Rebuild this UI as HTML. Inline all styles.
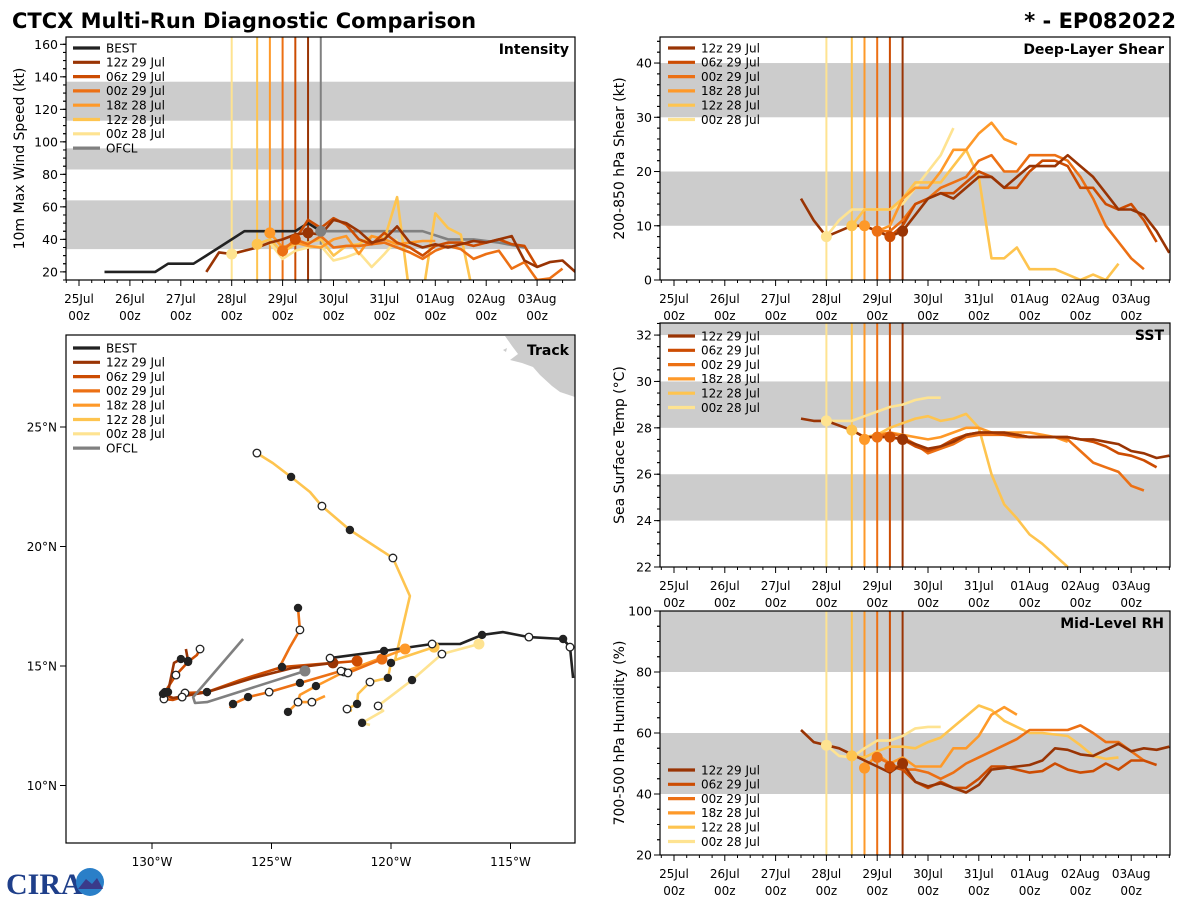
<!DOCTYPE html>
<html><head><meta charset="utf-8"><style>
html,body{margin:0;padding:0;background:#fff;}
svg{display:block;font-family:"DejaVu Sans","Liberation Sans",sans-serif;}
</style></head><body>
<svg id="root" width="1200" height="900" viewBox="0 0 1200 900" xmlns="http://www.w3.org/2000/svg">
<defs>
<clipPath id="cInt"><rect x="66" y="37" width="509" height="243"/></clipPath>
<clipPath id="cShr"><rect x="660" y="37" width="510" height="243"/></clipPath>
<clipPath id="cSst"><rect x="660" y="323" width="510" height="244"/></clipPath>
<clipPath id="cRh"><rect x="660" y="611" width="510" height="244"/></clipPath>
<clipPath id="cTrk"><rect x="66" y="335" width="509" height="508"/></clipPath>
</defs>
<text x="12" y="28" font-size="21" font-weight="bold" fill="#000">CTCX Multi-Run Diagnostic Comparison</text>
<text x="1176" y="28" font-size="21" font-weight="bold" fill="#000" text-anchor="end">* - EP082022</text>
<g>
<text x="6" y="894" font-size="30" font-weight="bold" fill="#1f3f8a" font-family="Liberation Serif, serif">CIRA</text>
<circle cx="90" cy="882" r="14" fill="#2a7fc8"/>
<path d="M78 889 L86 879 L92 884 L97 878 L103 889 Z" fill="#3a3a8a"/>
</g>
</svg>
<script>
// ===== DATA =====
const modelNames = ["12z 29 Jul","06z 29 Jul","00z 29 Jul","18z 28 Jul","12z 28 Jul","00z 28 Jul"];
const modelColors = ["#993404","#cc4c02","#ec7014","#fe9929","#fec44f","#fee391"];
const modelInitHours = [108,102,96,90,84,72];
const dayLabels = ["25Jul","26Jul","27Jul","28Jul","29Jul","30Jul","31Jul","01Aug","02Aug","03Aug"];

// Intensity (kt), 6-hourly from start hour
const bestIntStart = 12;
const bestIntVals = [20,20,20,20,20,25,25,25,30,35,40,45,45,45,45,45,50,45];
const ofclIntHours = [114,126,138,150,162,174,186,198,210];
const ofclIntVals = [45,45,45,45,45,40,40,38,35];
const intStarts = [60,102,96,90,84,72];
const int12z29 = [20,32,31,33,35,38,40,43,44,43,52,50,45,38,40,48,38,35,37,35,37,39,38,40,42,27,23,26,27,20];
const int06z29 = [40,52,47,53,49,40,37,44,38,35,30,36,38,38,36,38,40,37,36,23];
const int00z29 = [33,40,37,42,35,36,36,37,38,35,32,28,33,36,34,28,31,33,22,26,15,16,22];
const int18z28 = [44,35,38,36,35,40,42,31,42,40,37,38,39,39];
const int12z28 = [37,40,32,37,38,40,30,36,37,42,40,66,5,5,56,47,43,5];
const int00z28 = [31,33,35,38,28,33,35,36,27,29,32,23,31,40];
const intTicks = [20,40,60,80,100,120,140,160];

// Shear (kt)
const shrStarts = [60,102,96,90,84,72];
const shr12z29 = [15,11,8,9,10,10,9,8,9,12,15,16,15,17,19,19,17,19,21,21,21,23,21,19,16,13,13,12,9,5];
const shr06z29 = [8,10,14,15,16,16,18,20,19,17,17,20,22,22,21,17,17,14,13,14,11,7];
const shr00z29 = [9,9,11,14,15,17,18,19,22,23,20,20,23,23,23,22,19,15,10,7,4,2];
const shr18z28 = [10,9,10,15,17,17,20,24,24,27,29,26,25];
const shr12z28 = [10,13,13,13,15,18,18,18,21,24,19,4,4,6,2,2,2,1,0,1,0,3];
const shr00z28 = [8,11,13,13,13,13,14,17,20,23,28];
const shrTicks = [0,10,20,30,40];

// SST (C)
const sstStarts = [60,102,96,90,84,72];
const sst12z29 = [28.4,28.3,28.3,28.1,27.9,27.6,27.6,27.6,27.5,27.3,27.1,27.2,27.4,27.7,27.8,27.8,27.8,27.7,27.6,27.6,27.6,27.6,27.5,27.5,27.4,27.3,27.0,26.9,26.7,26.8];
const sst06z29 = [27.6,27.5,27.2,27.0,27.2,27.5,27.7,27.8,27.8,27.7,27.7,27.6,27.6,27.6,27.6,27.5,27.4,27.2,26.9,26.8,26.6,26.3];
const sst00z29 = [27.6,27.8,27.6,27.3,26.9,27.1,27.3,27.6,27.7,27.7,27.7,27.6,27.6,27.6,27.6,27.5,27.0,26.5,26.3,26.1,25.5,25.3];
const sst18z28 = [27.5,27.7,27.8,27.7,27.6,27.5,27.6,27.8,28.0,28.0,27.8,27.8,27.8,27.8,27.7,27.6,27.4];
const sst12z28 = [27.9,27.6,27.7,28.0,28.2,28.4,28.5,28.3,28.4,28.6,28.0,26.0,24.7,24.1,23.4,23.0,22.5,22.0];
const sst00z28 = [28.3,28.3,28.3,28.5,28.7,28.9,29.0,29.2,29.3,29.3];
const sstTicks = [22,24,26,28,30,32];

// Mid-level RH (%)
const rhStarts = [60,102,96,90,84,72];
const rh12z29 = [61,57,56,55,53,51,49,47,50,44,42.5,43.5,42,40.5,43,48,48.5,49,49.5,51,55,54.5,53,52.5,54.5,56.5,54,55,54.5,55.5];
const rh06z29 = [49,48,44,42,44,42,42,45,49,49,48,47,47.5,50,48,47,47.5,50,48,51,51,49.5];
const rh00z29 = [52,50,48,48,47,45,47,50,52,54,56,58,61,61,61,61,62.5,60,57,57,54,51];
const rh18z28 = [48.5,53,50,52,49,49,49,55,55,59,66,68.5,66];
const rh12z28 = [52.5,52,54,55.5,55.5,55,57,58.5,62,65.5,69,67.5,64,62,60,60,59.5,59,56,52.5,51.5,52];
const rh00z28 = [56,52.5,52,55,57.5,57.5,59,61.5,62,62];
const rhTicks = [20,40,60,80,100];

// Tracks (lon, lat, marker: 0 none, 1 filled, 2 open, 3 init)
const bestLon = [-112.38,-112.51,-112.80,-114.23,-115.31,-116.19,-117.11,-118.28,-120.29,-122.55];
const bestLat = [14.50,15.79,16.13,16.21,16.42,16.30,15.92,15.92,15.63,15.33];
const bestMk  = [0,2,1,2,0,1,0,2,1,2];
const ofclLon = [-123.60,-127.70,-128.20,-128.28,-126.19];
const ofclLat = [14.79,13.49,13.45,13.70,16.13];
const trk12z29Lon = [-122.43,-124.10,-125.77,-127.70,-129.12,-129.54,-129.33,-129.08,-128.79,-128.49,-128.58];
const trk12z29Lat = [15.13,14.92,14.50,13.91,13.66,13.83,13.91,15.13,15.29,15.21,15.71];
const trk12z29Mk  = [3,0,0,1,0,1,1,0,1,1,0];
const trk06z29Lon = [-121.42,-122.43,-124.56,-126.32,-127.70,-128.62,-128.74,-129.12,-129.50,-129.46,-129.0,-128.49,-128.12,-127.99];
const trk06z29Lat = [15.21,15.13,14.96,14.41,13.91,13.87,13.70,13.58,13.62,13.91,14.62,15.17,15.46,15.71];
const trk06z29Mk  = [3,0,1,0,1,2,2,0,2,1,2,1,0,2];
const trk00z29Lon = [-120.38,-121.80,-122.09,-123.81,-125.10,-125.98,-126.61,-126.74];
const trk00z29Lat = [15.29,14.71,14.79,14.29,13.91,13.70,13.41,13.24];
const trk00z29Mk  = [3,2,2,1,2,1,1,0];
const trk00z29bLon = [-124.73,-124.23,-123.81,-123.89];
const trk00z29bLat = [14.83,15.79,16.51,17.43];
const trk00z29bMk  = [0,0,2,1];
const trk18z28Lon = [-119.41,-120.63,-121.97,-123.14,-123.81,-123.89,-124.31];
const trk18z28Lat = [15.71,15.25,14.75,14.16,13.79,13.49,13.08];
const trk18z28Mk  = [3,0,2,1,0,0,1];
const trk18z28bLon = [-123.89,-123.31,-122.76];
const trk18z28bLat = [13.49,13.49,13.74];
const trk18z28bMk  = [2,2,0];
const trk12z28Lon = [-118.20,-119.83,-119.21,-119.92,-121.72,-122.89,-123.39,-124.18,-124.94,-125.61];
const trk12z28Lat = [15.79,15.25,17.93,19.52,20.69,21.69,22.28,22.91,23.49,23.91];
const trk12z28Mk  = [3,0,0,2,1,2,0,1,0,2];
const trk12z28bLon = [-119.83,-120.0,-120.13,-120.88,-121.38,-121.42,-121.84,-121.63];
const trk12z28bLat = [15.25,15.13,14.50,14.33,13.83,13.41,13.20,13.12];
const trk12z28bMk  = [0,1,1,2,0,1,2,0];
const trk00z28Lon = [-116.32,-117.87,-119.12,-120.54,-120.33,-121.21,-120.88];
const trk00z28Lat = [15.92,15.50,14.41,13.33,13.12,12.62,12.53];
const trk00z28Mk  = [3,2,1,2,0,1,0];
const lonTicks = [-130,-125,-120,-115];
const latTicks = [10,15,20,25];

// ===== DRAWING =====
const NS = "http://www.w3.org/2000/svg";
const root = document.getElementById('root');
function mk(tag, attrs, parent){
  const e = document.createElementNS(NS, tag);
  for (const k in attrs) e.setAttribute(k, attrs[k]);
  (parent||root).appendChild(e);
  return e;
}
function txt(str, attrs, parent){ const t = mk('text', attrs, parent); t.textContent = str; return t; }

function makePanel(p){
  const g = mk('g', {});
  
  
  const yS = v => p.y1 - (v - p.ymin) / (p.ymax - p.ymin) * (p.y1 - p.y0);
  const xS = h => p.xday0 + h * p.pxDay / 24;
  // bands
  p.bands.forEach(b => {
    const r = mk('rect', {x:p.x0, y:yS(Math.min(b[1],p.ymax)), width:p.x1-p.x0, height:yS(b[0])-yS(Math.min(b[1],p.ymax)), fill:'#cccccc'}, g);
    
    
  });
  // y ticks
  for (let v = p.ymin; v <= p.ymax + 1e-6; v += p.yminor) {
    const vv = Math.round(v*100)/100;
    if (Math.abs(vv - Math.round(vv/p.yminor)*p.yminor) > 1e-6) continue;
    mk('line', {x1:p.x0-3, x2:p.x0, y1:yS(vv), y2:yS(vv), stroke:'#000', 'stroke-width':1}, g);
  }
  const ys = Math.ceil(p.ymin / p.yminor) * p.yminor;
  for (let v = ys; v <= p.ymax; v += p.yminor) mk('line', {x1:p.x0-3, x2:p.x0, y1:yS(v), y2:yS(v), stroke:'#000', 'stroke-width':1}, g);
  p.yticks.forEach(v => {
    mk('line', {x1:p.x0-6, x2:p.x0, y1:yS(v), y2:yS(v), stroke:'#000', 'stroke-width':1}, g);
    const t = txt(String(v), {x:p.x0-8, y:yS(v)+4.5, 'font-size':12.5, 'text-anchor':'end', fill:'#000'}, g);
    
    
  });
  // x ticks
  for (let h = -6; h <= 240; h += 6) {
    const x = xS(h); if (x < p.x0 || x > p.x1) continue;
    const major = h % 24 === 0;
    mk('line', {x1:x, x2:x, y1:p.y1, y2:p.y1+(major?6:3), stroke:'#000', 'stroke-width':1}, g);
  }
  dayLabels.forEach((d, i) => {
    const x = xS(i*24);
    const t1 = txt(d, {x:x, y:p.y1+23, 'font-size':12, 'text-anchor':'middle', fill:'#000'}, g);
    
    
    const t2 = txt('00z', {x:x, y:p.y1+40, 'font-size':12, 'text-anchor':'middle', fill:'#000'}, g);
    
    
  });
  // y label
  const yl = txt(p.ylabel, {x:0, y:0, 'font-size':14, 'text-anchor':'middle', fill:'#000', transform:`translate(${p.ylx},${(p.y0+p.y1)/2}) rotate(-90)`}, g);
  
  
  // data group
  const dg = mk('g', {'clip-path':`url(#${p.clip})`}, g);
  // init lines
  modelInitHours.forEach((h, i) => {
    const l = mk('line', {x1:xS(h), x2:xS(h), y1:p.y0, y2:p.y1, stroke:modelColors[i], 'stroke-width':2}, dg);
    
    
  });
  if (p.ofclLine) {
    const l = mk('line', {x1:xS(p.ofclLine), x2:xS(p.ofclLine), y1:p.y0, y2:p.y1, stroke:'#808080', 'stroke-width':2}, dg);
    
    
  }
  // series (draw lightest first)
  const order = [5,4,3,2,1,0];
  const lineOf = (hours, vals, color, name) => {
    const pts = hours.map((h, k) => xS(h).toFixed(1) + ',' + yS(vals[k]).toFixed(1)).join(' ');
    const pl = mk('polyline', {points:pts, fill:'none', stroke:color, 'stroke-width':2.6, 'stroke-linejoin':'round'}, dg);
    
    
  };
  if (p.extra) p.extra.forEach(e => lineOf(e.hours, e.vals, e.color, e.name));
  order.forEach(i => {
    const vals = p.series[i];
    const hours = vals.map((_, k) => p.starts[i] + 6*k);
    lineOf(hours, vals, modelColors[i], 'series-' + modelNames[i].replace(/ /g,'-').toLowerCase());
  });
  order.forEach(i => {
    const vals = p.series[i];
    const k = (modelInitHours[i] - p.starts[i]) / 6;
    if (k < 0 || k >= vals.length) return;
    const c = mk('circle', {cx:xS(modelInitHours[i]), cy:yS(vals[k]), r:5.5, fill:modelColors[i]}, dg);
    
    
  });
  if (p.ofclDot) {
    const c = mk('circle', {cx:xS(p.ofclDot[0]), cy:yS(p.ofclDot[1]), r:5.5, fill:'#808080'}, dg);
    
    
  }
  // frame
  const fr = mk('rect', {x:p.x0, y:p.y0, width:p.x1-p.x0, height:p.y1-p.y0, fill:'none', stroke:'#000', 'stroke-width':1.2}, g);
  
  
  // title
  const tt = txt(p.title, {x:p.x1-6, y:p.y0+17, 'font-size':14, 'font-weight':'bold', 'text-anchor':'end', fill:'#000'}, g);
  
  
  legend(g, p.legX, p.legY, p.legendEntries);
}

function legend(g, x, y, entries){
  const lg = mk('g', {}, g);
  
  
  entries.forEach((e, i) => {
    const yy = y + i*14.3;
    const ent = mk('g', {}, lg);
    
    
    mk('line', {x1:x, x2:x+27, y1:yy, y2:yy, stroke:e[1], 'stroke-width':3.2}, ent);
    txt(e[0], {x:x+33, y:yy+4.3, 'font-size':12, fill:'#000'}, ent);
  });
}
const modelLegend = modelNames.map((n, i) => [n, modelColors[i]]);

// Intensity
makePanel({name:'intensity', x0:66, x1:575, y0:37, y1:280, ymin:15, ymax:164.5, yminor:5, yticks:intTicks,
  bands:[[34,64],[83,96],[113,137]], xday0:79, pxDay:50.9, ylabel:'10m Max Wind Speed (kt)', ylx:24, clip:'cInt',
  title:'Intensity', starts:intStarts, series:[int12z29,int06z29,int00z29,int18z28,int12z28,int00z28],
  extra:[{hours:bestIntVals.map((_,k)=>bestIntStart+6*k), vals:bestIntVals, color:'#222222', name:'series-best'},
         {hours:ofclIntHours, vals:ofclIntVals, color:'#808080', name:'series-ofcl'}],
  ofclLine:114, ofclDot:[ofclIntHours[0], ofclIntVals[0]],
  legX:73, legY:48, legendEntries:[['BEST','#222222']].concat(modelLegend).concat([['OFCL','#808080']])});
// Shear
makePanel({name:'shear', x0:660, x1:1170, y0:37, y1:280, ymin:0, ymax:44.8, yminor:2, yticks:shrTicks,
  bands:[[10,20],[30,40]], xday0:674, pxDay:50.8, ylabel:'200-850 hPa Shear (kt)', ylx:624, clip:'cShr',
  title:'Deep-Layer Shear', starts:shrStarts, series:[shr12z29,shr06z29,shr00z29,shr18z28,shr12z28,shr00z28],
  legX:668, legY:48, legendEntries:modelLegend});
// SST
makePanel({name:'sst', x0:660, x1:1170, y0:323, y1:567, ymin:22, ymax:32.52, yminor:0.5, yticks:sstTicks,
  bands:[[24,26],[28,30],[32,34]], xday0:674, pxDay:50.8, ylabel:'Sea Surface Temp (°C)', ylx:624, clip:'cSst',
  title:'SST', starts:sstStarts, series:[sst12z29,sst06z29,sst00z29,sst18z28,sst12z28,sst00z28],
  legX:668, legY:336, legendEntries:modelLegend});
// RH
makePanel({name:'rh', x0:660, x1:1170, y0:611, y1:855, ymin:20, ymax:100, yminor:5, yticks:rhTicks,
  bands:[[40,60],[80,100]], xday0:674, pxDay:50.8, ylabel:'700-500 hPa Humidity (%)', ylx:624, clip:'cRh',
  title:'Mid-Level RH', starts:rhStarts, series:[rh12z29,rh06z29,rh00z29,rh18z28,rh12z28,rh00z28],
  legX:668, legY:770, legendEntries:modelLegend});

// Track panel
(function(){
  const g = mk('g', {});
  
  
  const lx = lon => 152 + (lon + 130) * 23.9;
  const ly = lat => 666 - (lat - 15) * 23.9;
  const dg = mk('g', {'clip-path':'url(#cTrk)'}, g);
  const land = mk('path', {d:'M505 336 L575 336 L575 397 L560 392 L552 386 L540 375 L533 367 L522 363 L510 360 L518 354 L512 346 Z M503 350 L507 348 L506 352 Z', fill:'#cccccc'}, dg);
  
  
  const tracks = [
    {lon:trk00z28Lon, lat:trk00z28Lat, mk:trk00z28Mk, c:modelColors[5], n:'track-00z-28-jul'},
    {lon:trk12z28Lon, lat:trk12z28Lat, mk:trk12z28Mk, c:modelColors[4], n:'track-12z-28-jul'},
    {lon:trk12z28bLon, lat:trk12z28bLat, mk:trk12z28bMk, c:modelColors[4], n:'track-12z-28-jul-branch'},
    {lon:trk18z28Lon, lat:trk18z28Lat, mk:trk18z28Mk, c:modelColors[3], n:'track-18z-28-jul'},
    {lon:trk18z28bLon, lat:trk18z28bLat, mk:trk18z28bMk, c:modelColors[3], n:'track-18z-28-jul-branch'},
    {lon:trk00z29Lon, lat:trk00z29Lat, mk:trk00z29Mk, c:modelColors[2], n:'track-00z-29-jul'},
    {lon:trk00z29bLon, lat:trk00z29bLat, mk:trk00z29bMk, c:modelColors[2], n:'track-00z-29-jul-branch'},
    {lon:trk06z29Lon, lat:trk06z29Lat, mk:trk06z29Mk, c:modelColors[1], n:'track-06z-29-jul'},
    {lon:trk12z29Lon, lat:trk12z29Lat, mk:trk12z29Mk, c:modelColors[0], n:'track-12z-29-jul'},
    {lon:ofclLon, lat:ofclLat, mk:[3,0,0,0,0], c:'#808080', n:'track-ofcl'},
    {lon:bestLon, lat:bestLat, mk:bestMk, c:'#222222', n:'track-best'}
  ];
  tracks.forEach(t => {
    const pts = t.lon.map((v, k) => lx(v).toFixed(1) + ',' + ly(t.lat[k]).toFixed(1)).join(' ');
    const pl = mk('polyline', {points:pts, fill:'none', stroke:t.c, 'stroke-width':2.6, 'stroke-linejoin':'round'}, dg);
    
    
  });
  tracks.forEach(t => {
    t.mk.forEach((m, k) => {
      if (!m) return;
      const attrs = {cx:lx(t.lon[k]), cy:ly(t.lat[k])};
      if (m === 1) { attrs.r = 4.2; attrs.fill = '#222222'; }
      else if (m === 2) { attrs.r = 3.8; attrs.fill = '#ffffff'; attrs.stroke = '#222222'; attrs['stroke-width'] = 1.3; }
      else { attrs.r = 5.5; attrs.fill = t.c; }
      const c = mk('circle', attrs, dg);
      
      
    });
  });
  const fr = mk('rect', {x:66, y:335, width:509, height:508, fill:'none', stroke:'#000', 'stroke-width':1.2}, g);
  
  
  lonTicks.forEach(v => {
    const x = lx(v);
    mk('line', {x1:x, x2:x, y1:843, y2:849, stroke:'#000'}, g);
    const t = txt(Math.abs(v) + '°W', {x:x, y:866, 'font-size':12, 'text-anchor':'middle', fill:'#000'}, g);
    
    
  });
  latTicks.forEach(v => {
    const y = ly(v);
    mk('line', {x1:60, x2:66, y1:y, y2:y, stroke:'#000'}, g);
    const t = txt(v + '°N', {x:57, y:y+4.5, 'font-size':12, 'text-anchor':'end', fill:'#000'}, g);
    
    
  });
  const tt = txt('Track', {x:569, y:355, 'font-size':14, 'font-weight':'bold', 'text-anchor':'end', fill:'#000'}, g);
  
  
  legend(g, 73, 348, [['BEST','#222222']].concat(modelLegend).concat([['OFCL','#808080']]));
})();
</script>
</body></html>
